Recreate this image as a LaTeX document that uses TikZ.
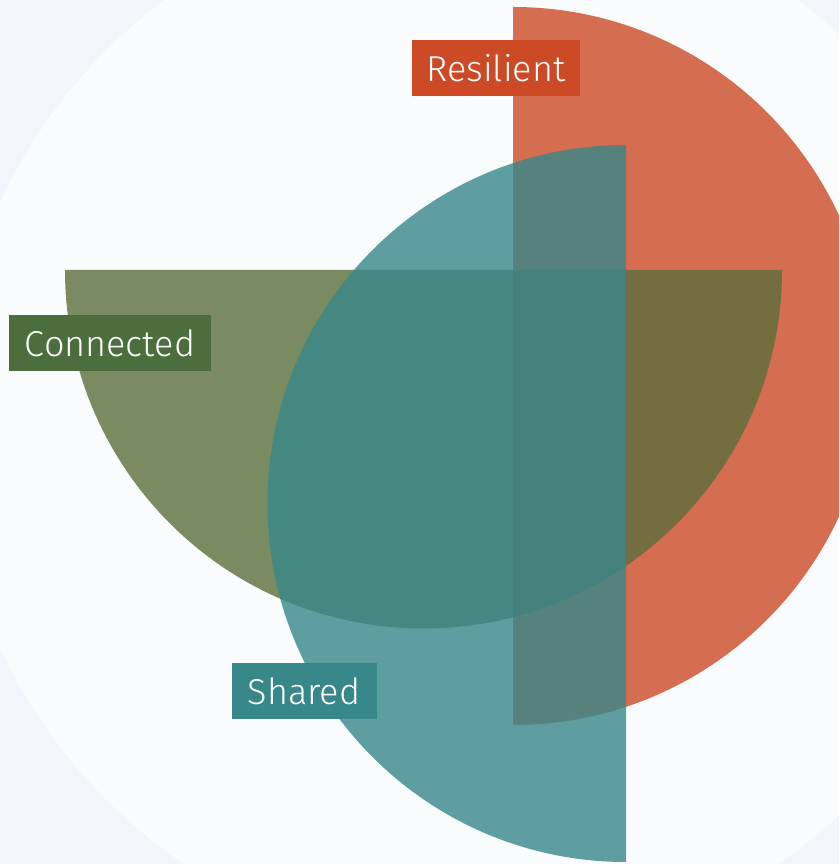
\documentclass[tikz,border=0pt]{standalone}
\usepackage{fontspec}
\usepackage{tikz}
\newfontfamily\tagfont{Fira Sans Light}
\definecolor{pagebg}{HTML}{F2F5F9}
\definecolor{discbg}{HTML}{F9FBFD}
\definecolor{resilientred}{HTML}{CD4A26}
\definecolor{connectedgreen}{HTML}{4B6E3C}
\definecolor{connectedolive}{HTML}{5B6E3B}
\definecolor{sharedteal}{HTML}{388789}

\begin{document}
\begin{tikzpicture}[x=1pt, y=1pt,
    tag/.style={text=white, inner sep=0pt, minimum height=56pt,
      font=\tagfont\fontsize{36}{40}\selectfont},
    part/.style={fill opacity=0.8}]

      \useasboundingbox (0, 0) rectangle (839, 864);
      \clip (0, 0) rectangle (839, 864);

      \fill [fill=pagebg] (0, 0) rectangle (839, 864);
      \fill [fill=discbg] (481, 439) circle [radius=530];

      % three half discs
      \fill [part, fill=resilientred] (513, 857)
        arc [start angle=90, end angle=-90, radius=359] -- cycle;
      \fill [part, fill=connectedolive] (65, 594)
        arc [start angle=180, end angle=360, radius=358.5] -- cycle;
      \fill [part, fill=sharedteal] (626, 719)
        arc [start angle=90, end angle=270, radius=358.5] -- cycle;

      % labels
      \node (resilient) [tag, fill=resilientred, minimum width=168pt]
        at (496, 796) {Resilient};
      \node (connected) [tag, fill=connectedgreen, minimum width=202pt]
        at (110, 521) {Connected};
      \node (shared) [tag, fill=sharedteal, minimum width=145pt]
        at (304, 173) {Shared};

    \end{tikzpicture}
\end{document}
